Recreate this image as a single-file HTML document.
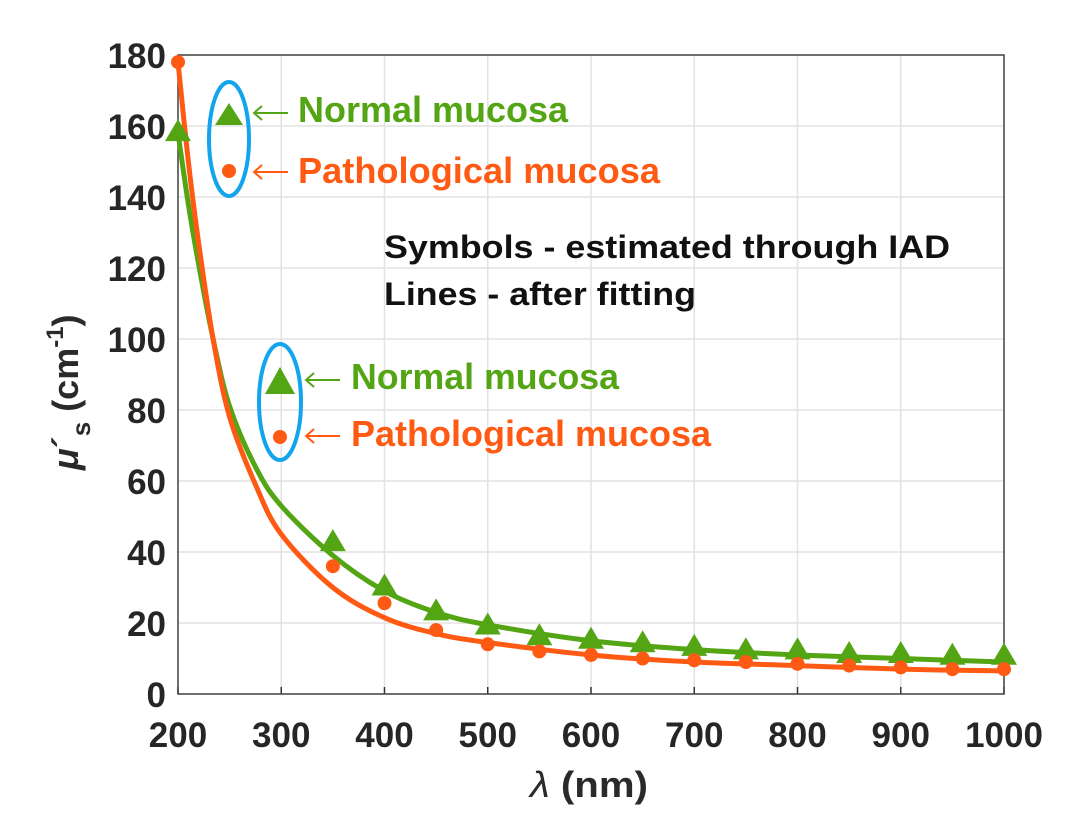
<!DOCTYPE html>
<html><head><meta charset="utf-8"><style>
body{margin:0;background:#fff;}
svg text{font-family:"Liberation Sans",sans-serif;font-weight:bold;}
</style></head><body>
<svg id="chart" width="1074" height="835" viewBox="0 0 1074 835" xmlns="http://www.w3.org/2000/svg">
<g id="grid"></g>
<g id="axes"></g>
<g id="series"></g>
<g>
<ellipse cx="229" cy="139" rx="20" ry="57" fill="none" stroke="#12a5ee" stroke-width="4"/>
<polygon points="229,103 243,125 215,125" fill="#53a514"/>
<circle cx="229" cy="171" r="7" fill="#ff5a14"/>
<path d="M288,113 H254 M262,106 L254,113 L262,120" fill="none" stroke="#53a514" stroke-width="2"/>
<text x="298" y="122" font-size="36" fill="#53a514" textLength="270" lengthAdjust="spacingAndGlyphs">Normal mucosa</text>
<path d="M288,172 H254 M262,165 L254,172 L262,179" fill="none" stroke="#ff5a14" stroke-width="2"/>
<text x="298" y="183" font-size="36" fill="#ff5a14" textLength="362" lengthAdjust="spacingAndGlyphs">Pathological mucosa</text>
</g>
<g>
<ellipse cx="280" cy="402" rx="21" ry="58" fill="none" stroke="#12a5ee" stroke-width="4"/>
<polygon points="280,367 295,394 265,394" fill="#53a514"/>
<circle cx="280" cy="437" r="7" fill="#ff5a14"/>
<path d="M340,380 H306 M314,373 L306,380 L314,387" fill="none" stroke="#53a514" stroke-width="2"/>
<text x="351" y="389" font-size="36" fill="#53a514" textLength="268" lengthAdjust="spacingAndGlyphs">Normal mucosa</text>
<path d="M340,436 H306 M314,429 L306,436 L314,443" fill="none" stroke="#ff5a14" stroke-width="2"/>
<text x="351" y="446" font-size="36" fill="#ff5a14" textLength="360" lengthAdjust="spacingAndGlyphs">Pathological mucosa</text>
</g>
<text x="384" y="258" font-size="32" fill="#111" textLength="566" lengthAdjust="spacingAndGlyphs">Symbols - estimated through IAD</text>
<text x="384" y="305" font-size="32" fill="#111" textLength="312" lengthAdjust="spacingAndGlyphs">Lines - after fitting</text>
<text x="530" y="797" font-size="36" fill="#2a2a2a" textLength="118" lengthAdjust="spacingAndGlyphs"><tspan font-style="italic" font-weight="normal">λ</tspan> (nm)</text>
<text transform="translate(78,470) rotate(-90)" font-size="36" fill="#2a2a2a"><tspan font-style="italic">μ</tspan>´<tspan font-size="26" dy="12">s</tspan><tspan dy="-12"> (cm</tspan><tspan font-size="24" dy="-15">-1</tspan><tspan dy="15">)</tspan></text>
</svg>
<script>
const xTicks=[200,300,400,500,600,700,800,900,1000];
const yTicks=[0,20,40,60,80,100,120,140,160,180];
const normLambda=[200,350,400,450,500,550,600,650,700,750,800,850,900,950,1000];
const normValues=[158,42.5,30,23,19,16,15,14,13,12,12,11,11,10.5,10.5];
const pathLambda=[200,350,400,450,500,550,600,650,700,750,800,850,900,950,1000];
const pathValues=[178,36,25.6,18,14,12,11,10,9.5,9,8.5,8,7.5,7,7];
const fitLambda=[200,210,220,234,250,275,300,350,400,450,500,600,700,800,900,1000];
const normFit=[158,138,121,100,81,64,53,39,29,23,19.5,15,12.5,11,10,9];
const pathFit=[178,150,127,100,78,59,45,30,21.5,17,14.5,11,9,8,7,6.5];
const X=v=>178+(v-200)*(1004-178)/800;
const Y=v=>694-v*(694-55)/180;
const NS="http://www.w3.org/2000/svg";
function mk(tag,attrs,parent){const e=document.createElementNS(NS,tag);for(const k in attrs)e.setAttribute(k,attrs[k]);parent.appendChild(e);return e;}
const grid=document.getElementById('grid'),axes=document.getElementById('axes'),ser=document.getElementById('series');
xTicks.forEach(t=>{
 const l=mk('line',{x1:X(t),x2:X(t),y1:Y(180),y2:Y(0),stroke:'#e2e2e2','stroke-width':1.5},grid);
 
 
 const tx=mk('text',{x:X(t),y:Y(0)+53,'font-size':35,fill:'#262626','text-anchor':'middle'},axes);
 tx.textContent=t;
 
 
 const tk=mk('line',{x1:X(t),x2:X(t),y1:Y(0),y2:Y(0)-7,stroke:'#333','stroke-width':1.5},axes);
 
 
});
yTicks.forEach(t=>{
 const l=mk('line',{x1:X(200),x2:X(1000),y1:Y(t),y2:Y(t),stroke:'#e2e2e2','stroke-width':1.5},grid);
 
 
 const tx=mk('text',{x:X(200)-12,y:Y(t)+13,'font-size':35,fill:'#262626','text-anchor':'end'},axes);
 tx.textContent=t;
 
 
});
const box=mk('rect',{x:X(200),y:Y(180),width:X(1000)-X(200),height:Y(0)-Y(180),fill:'none',stroke:'#444','stroke-width':1.5},axes);


function curve(xs,ys){const p=xs.map((x,i)=>[X(x),Y(ys[i])]);let d=`M${p[0][0]},${p[0][1]}`;
 for(let i=0;i<p.length-1;i++){const p0=p[i-1]||p[i],p1=p[i],p2=p[i+1],p3=p[i+2]||p2;
 d+=` C${p1[0]+(p2[0]-p0[0])/6},${p1[1]+(p2[1]-p0[1])/6} ${p2[0]-(p3[0]-p1[0])/6},${p2[1]-(p3[1]-p1[1])/6} ${p2[0]},${p2[1]}`;}return d;}
const ln=mk('path',{d:curve(fitLambda,normFit),fill:'none',stroke:'#53a514','stroke-width':5},ser);


const lp=mk('path',{d:curve(fitLambda,pathFit),fill:'none',stroke:'#ff5a14','stroke-width':5},ser);


normLambda.forEach((l,i)=>{const x=X(l),y=Y(normValues[i]);
 const t=mk('polygon',{points:`${x},${y-14} ${x+13},${y+8} ${x-13},${y+8}`,fill:'#53a514'},ser);
 
 });
pathLambda.forEach((l,i)=>{
 const c=mk('circle',{cx:X(l),cy:Y(pathValues[i]),r:7,fill:'#ff5a14'},ser);
 
 });
</script>
</body></html>
